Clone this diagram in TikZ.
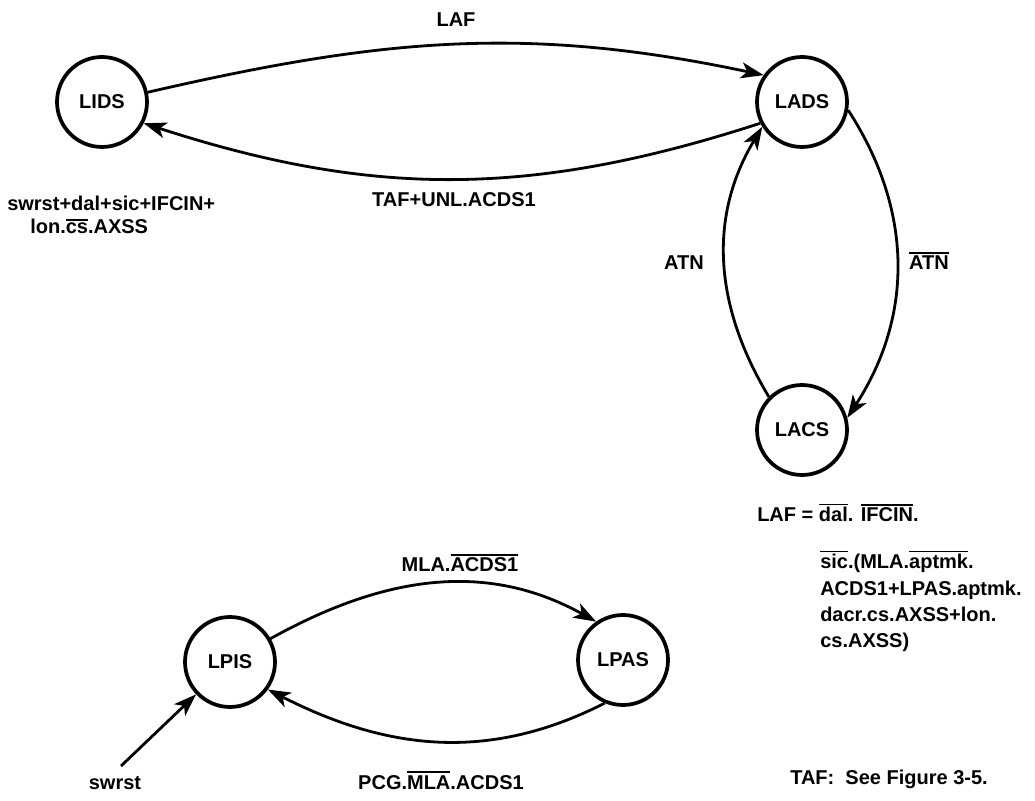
\documentclass[tikz,border=0pt]{standalone}
\usepackage{fontspec}
\setmainfont{Liberation Sans}
\usetikzlibrary{arrows.meta}
\newcommand{\olin}[1]{\leavevmode\vbox{\hrule height 1.3pt\kern 1.6pt\hbox{#1}}}
\begin{document}
\begin{tikzpicture}[x=0.75pt,y=0.75pt,
  state/.style={circle,draw,line width=2.8pt,minimum size=67.5pt,inner sep=0pt,font=\fontsize{15}{19.5}\selectfont\bfseries},
  lbl/.style={font=\fontsize{15}{19.5}\selectfont\bfseries,inner sep=0pt},
  edge/.style={line width=2.1pt,-{Stealth[length=17pt,width=12pt,inset=4.5pt]}},
]
\useasboundingbox (0,0) rectangle (1035,800);
\node[state] (lids) at (102,698) {LIDS};
\node[state] (lads) at (802,698) {LADS};
\node[state] (lacs) at (802,370) {LACS};
\node[state] (lpis) at (230,138) {LPIS};
\node[state] (lpas) at (623,140) {LPAS};

\draw[edge] (lids.12) to[out=13,in=168] (lads.145);
\draw[edge] (lads.207) to[out=198,in=-18] (lids.-27);
\draw[edge] (lacs.135) to[out=121,in=-121] (lads.212);
\draw[edge] (lads.-10) to[out=-57,in=57] (lacs.15);
\draw[edge] (lpis.30) to[out=29,in=151] (lpas.125);
\draw[edge] (lpas.247) to[out=207,in=-27] (lpis.-36);
\coordinate (sw) at (121,34);
\draw[edge] (sw) -- (lpis);

\node[lbl,anchor=base] (tLAF) at (456,773) {LAF};
\node[lbl,anchor=base] (tTAF) at (454,593) {TAF+UNL.ACDS1};
\node[lbl,anchor=base] (tATN) at (684,530) {ATN};
\node[lbl,anchor=base] (tnATN) at (929,530) {\olin{ATN}};
\node[lbl,anchor=base west] (tL1) at (7,589) {swrst+dal+sic+IFCIN+};
\node[lbl,anchor=base west] (tL2) at (30,566) {lon.\olin{cs}.AXSS};
\node[lbl,anchor=base west] (tB0) at (757,278) {LAF = \olin{dal}. \olin{IFCIN}.};
\node[lbl,anchor=base west] (tB1) at (820,231) {\olin{sic}.(MLA.\olin{aptmk}.};
\node[lbl,anchor=base west] (tB2) at (820,204) {ACDS1+LPAS.aptmk.};
\node[lbl,anchor=base west] (tB3) at (820,178) {dacr.cs.AXSS+lon.};
\node[lbl,anchor=base west] (tB4) at (820,152) {cs.AXSS)};
\node[lbl,anchor=base] (tMLA) at (460,228) {MLA.\olin{ACDS1}};
\node[lbl,anchor=base] (tPCG) at (441,11) {PCG.\olin{MLA}.ACDS1};
\node[lbl,anchor=base] (tsw) at (115,11) {swrst};
\node[lbl,anchor=base west] (tSee) at (790,16) {TAF:\ \ See Figure 3-5.};
\end{tikzpicture}
\end{document}
